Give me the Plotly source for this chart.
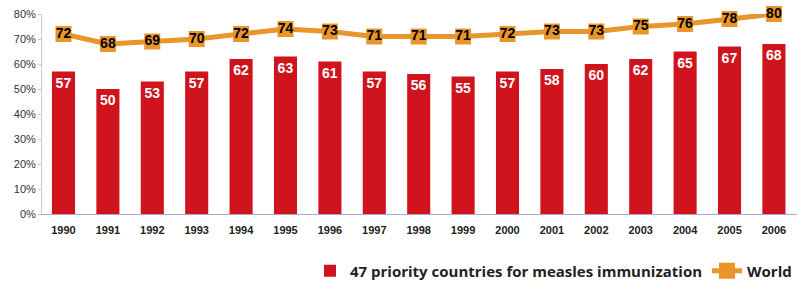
import plotly.graph_objects as go

years = [str(y) for y in range(1990, 2007)]
priority = [57, 50, 53, 57, 62, 63, 61, 57, 56, 55, 57, 58, 60, 62, 65, 67, 68]
world = [72, 68, 69, 70, 72, 74, 73, 71, 71, 71, 72, 73, 73, 75, 76, 78, 80]
yticks = [0, 10, 20, 30, 40, 50, 60, 70, 80]
ytext = [f"{v}%" for v in yticks]

RED = "#D0141E"
ORANGE = "#E8952A"

fig = go.Figure()
fig.add_trace(go.Bar(
    x=list(range(len(years))), y=priority, name="47 priority countries for measles immunization",
    marker=dict(color=RED, line=dict(width=0)), width=0.52,
    text=[str(v) for v in priority], textposition="inside", insidetextanchor="end",
    textfont=dict(color="white", size=14, family="Liberation Sans", weight="bold"),
    cliponaxis=False,
))
fig.add_trace(go.Scatter(
    x=list(range(len(years))), y=world, name="World", mode="lines+markers+text",
    line=dict(color=ORANGE, width=5),
    marker=dict(symbol="square", size=16, color=ORANGE),
    text=[str(v) for v in world], textposition="middle center",
    textfont=dict(color="black", size=14, family="Liberation Sans", weight="bold"),
    cliponaxis=False,
))

fig.update_layout(
    width=799, height=286,
    margin=dict(l=42, r=2, t=14, b=72, autoexpand=False),
    paper_bgcolor="white", plot_bgcolor="white",
    showlegend=True,
    legend=dict(orientation="h", x=1.0, xanchor="right", y=-0.285, yanchor="middle",
                font=dict(size=15, family="Open Sans", color="#222", weight="bold"),
                itemwidth=30, tracegroupgap=0, bgcolor="rgba(0,0,0,0)"),
    font=dict(family="Liberation Sans", color="#222"),
)
fig.update_xaxes(
    tickmode="array", tickvals=list(range(len(years))), ticktext=years,
    range=[-0.484, 16.52], showgrid=False, zeroline=False,
    showline=True, linecolor="#A9A9D0", linewidth=1,
    tickfont=dict(size=11, family="Liberation Sans", color="#222", weight="bold"),
    ticks="", ticklabelstandoff=6,
)
fig.update_yaxes(
    range=[0, 80], tickmode="array", tickvals=yticks, ticktext=ytext,
    showgrid=False, zeroline=False, showline=True, linecolor="#C8C8E0", linewidth=1,
    ticks="outside", ticklen=3, tickcolor="#C8C8E0",
    tickfont=dict(size=11, family="Liberation Sans", color="#333"),
)
fig.write_html("out.html", config={"displayModeBar": False},
               post_script="document.body.style.margin='0';")
